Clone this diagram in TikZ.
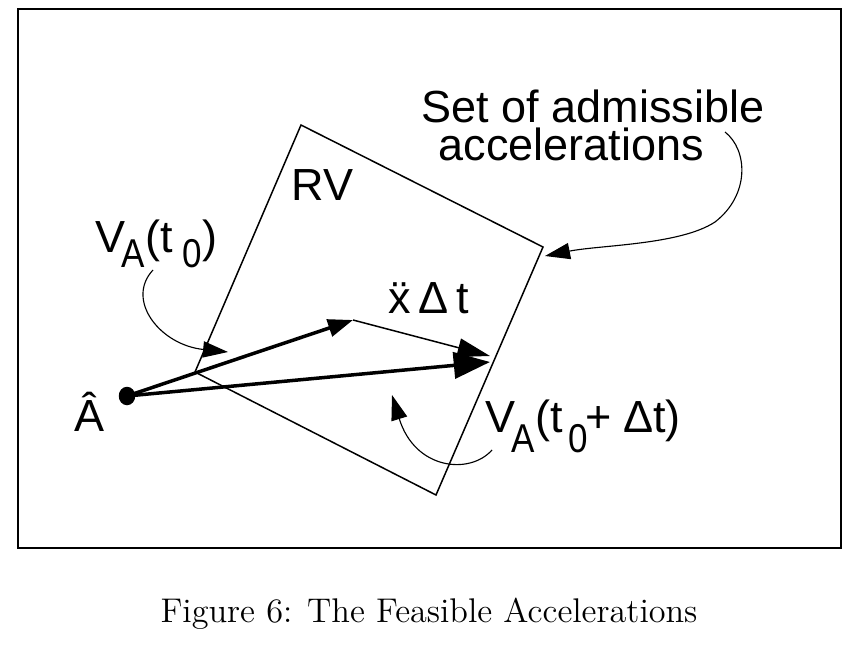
\documentclass[tikz,border=0pt]{standalone}
\usepackage{fontspec}
\newfontfamily\arialfont{Liberation Sans}
\usetikzlibrary{arrows.meta, shapes.geometric}
\newcommand{\lowsub}[2][6pt]{\raisebox{-#1}{\fontsize{14}{14}\selectfont\scalebox{1}[1.15]{#2}}}
\begin{document}
\begin{tikzpicture}[
  x=0.4pt, y=-0.4pt,
  lbl/.style={font=\arialfont\fontsize{18}{21}\selectfont, inner sep=0pt, anchor=base west},
  dot/.style={ellipse, fill=black, minimum width=6.6pt, minimum height=7.4pt, inner sep=0pt},
  vec/.style={line width=1.4pt, -{Triangle[length=10pt, width=7pt]}},
  bigvec/.style={line width=1.4pt, -{Triangle[length=14.5pt, width=10.5pt]}},
  accvec/.style={line width=0.6pt, -{Triangle[length=13pt, width=7.5pt]}},
  callout/.style={line width=0.45pt, -{Triangle[length=10pt, width=6.5pt]}}
]
  \useasboundingbox (0,0) rectangle (859,646);

  % === Frame ===
  \draw[line width=1pt] (18,9) rectangle (841,548);

  % === Region RV ===
  \coordinate (rvT) at (301,125);
  \coordinate (rvR) at (543,247);
  \coordinate (rvB) at (436,495);
  \coordinate (rvL) at (195,372);
  \draw[line width=0.6pt] (rvT) -- (rvR) -- (rvB) -- (rvL) -- cycle;
  \node[lbl] (rv) at (291,201) {RV};

  % === Point A and the velocities ===
  \node[dot] (A) at (127,396) {};
  \node[lbl] (Ahat) at (74,431) {\^{A}};
  \coordinate (v0) at (353,320);
  \coordinate (v1) at (490,356);
  \coordinate (v2) at (490,362);
  \draw[vec] (A.center) -- (v0);
  \draw[accvec] (v0) -- (v1);
  \draw[bigvec] (A.center) -- (v2);

  % Labels
  \node[lbl] (acc) at (388,313) {\"{x}\,Δ\,t};
  \node[lbl] (va0) at (95,252) {V\kern-1.5pt\lowsub{A}(t\kern4pt\lowsub{0})};
  \node[lbl] (va1) at (485,432)
    {V\kern-1.5pt\lowsub[8pt]{A}(t\kern2.5pt\lowsub[8pt]{0}\kern-1pt+\kern4.5ptΔt)};
  \node[lbl, font=\arialfont\fontsize{18}{14.8}\selectfont] (set) at (421,123)
    {\begin{tabular}[t]{@{}l@{}}Set of admissible\\[-2.6pt]\hspace{6.8pt}accelerations\end{tabular}};

  % Callouts
  \coordinate (c0) at (153,270);
  \coordinate (c0tip) at (228,352);
  \draw[callout] (c0) .. controls (125,300) and (160,345) .. (c0tip);
  \coordinate (c1) at (725,132);
  \coordinate (c1tip) at (545,256);
  \draw[callout] (c1) .. controls (748,150) and (750,195) .. (715,222)
                 .. controls (680,245) and (600,245) .. (c1tip);
  \coordinate (c2) at (492,450);
  \coordinate (c2tip) at (392,395);
  \draw[callout] (c2) .. controls (470,475) and (415,470) .. (c2tip);

  % === Caption ===
  \node[font=\fontsize{13.7}{16}\selectfont, inner sep=0pt, anchor=base] (cap) at (429,622)
    {Figure 6: The Feasible Accelerations};
\end{tikzpicture}
\end{document}
